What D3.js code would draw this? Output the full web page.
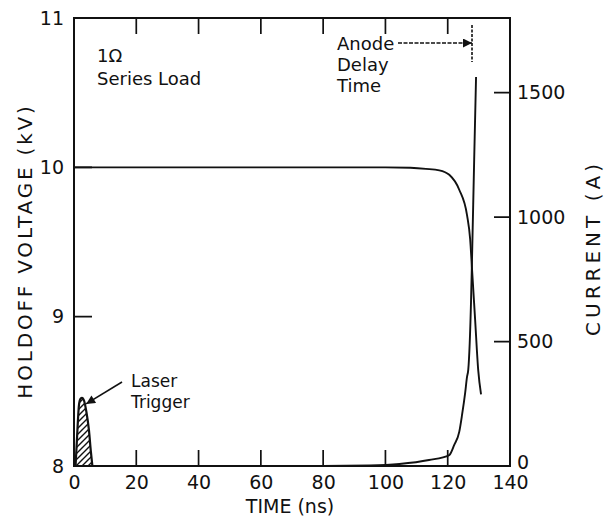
<!DOCTYPE html>
<html>
<head>
<meta charset="utf-8">
<script src="https://cdn.jsdelivr.net/npm/d3@7"></script>
<style>
  body { margin: 0; background: #fff; }
  svg text { font-family: "DejaVu Sans", sans-serif; fill: #111; }
</style>
</head>
<body>
<div id="chart"></div>
<script>
// holdoff voltage trace (kV vs ns)
var voltTime = [0, 20, 40, 60, 80, 100, 108, 113, 117.3, 120.5, 123.7, 126.2, 127.2, 127.8, 128.8, 129.8, 130.7];
var voltKV   = [10, 10, 10, 10, 10, 10, 9.997, 9.99, 9.98, 9.95, 9.85, 9.68, 9.52, 9.32, 8.98, 8.64, 8.48];

// current trace (A vs ns)
var currTime = [0, 20, 40, 60, 80, 95, 104.5, 114, 120.5, 122.1, 123.7, 124.6, 125.6, 126.2, 126.6, 127.5, 127.8, 128.5, 129.1];
var currAmp  = [0, 0, 0, 0, 0, 2, 8, 24, 44, 85, 137, 205, 294, 358, 387, 668, 830, 1232, 1563];

// laser trigger pulse, drawn in voltage units
var laserTime = [0.5, 1.0, 1.6, 2.1, 2.6, 3.2, 4.0, 4.8, 5.4, 5.9];
var laserKV   = [8.0, 8.2, 8.41, 8.45, 8.456, 8.44, 8.36, 8.24, 8.1, 8.0];

var anodeDelay = 127.8;

var timeTicks = [0, 20, 40, 60, 80, 100, 120, 140];
var voltTicks = [8, 9, 10, 11];
var currTicks = [0, 500, 1000, 1500];

var W = 605, H = 522;
var margin = {top: 18, right: 95, bottom: 56, left: 74},
    plotW = W - margin.left - margin.right,
    plotH = H - margin.top - margin.bottom;

var svg = d3.select("#chart").append("svg")
    .attr("width", W)
    .attr("height", H);

var defs = svg.append("defs");
defs.append("marker")
    .attr("id", "arrow")
    .attr("viewBox", "0 0 10 10")
    .attr("refX", 10).attr("refY", 5)
    .attr("markerWidth", 12).attr("markerHeight", 9)
    .attr("markerUnits", "userSpaceOnUse")
    .attr("orient", "auto")
    .append("path")
    .attr("d", "M0,0 L10,5 L0,10 Z")
    .attr("fill", "#111");

var hatch = defs.append("pattern")
    .attr("id", "hatch")
    .attr("patternUnits", "userSpaceOnUse")
    .attr("width", 6).attr("height", 6);
hatch.append("path")
    .attr("d", "M-1,1 L1,-1 M0,6 L6,0 M5,7 L7,5")
    .attr("stroke", "#111")
    .attr("stroke-width", 1.4);

var g = svg.append("g")
    .attr("transform", "translate(" + margin.left + "," + margin.top + ")");

var x = d3.scaleLinear().domain([0, 140]).range([0, plotW]);
var yV = d3.scaleLinear().domain([8, 11]).range([plotH, 0]);
var yI = d3.scaleLinear().domain([0, 1800]).range([plotH, 0]);

// tick labels from the axes, tick marks drawn inward below
function styleAxis(sel) {
    sel.select(".domain").remove();
    sel.selectAll(".tick line").remove();
    sel.selectAll(".tick text").attr("font-size", 19).attr("fill", "#111")
       .style("font-family", "DejaVu Sans, sans-serif");
}

g.append("g")
    .attr("transform", "translate(0," + plotH + ")")
    .call(d3.axisBottom(x).tickValues(timeTicks).tickSize(0).tickPadding(10))
    .call(styleAxis);

g.append("g")
    .call(d3.axisLeft(yV).tickValues(voltTicks).tickSize(0).tickPadding(10).tickFormat(d3.format("d")))
    .call(styleAxis);

var rightAxis = g.append("g")
    .attr("transform", "translate(" + plotW + ",0)")
    .call(d3.axisRight(yI).tickValues(currTicks).tickSize(0).tickPadding(7).tickFormat(d3.format("d")))
    .call(styleAxis);
rightAxis.selectAll(".tick text").filter(function(d) { return d === 0; }).attr("y", -4);

// inward tick marks as one path
var tickLen = 16;
var inner = timeTicks.slice(1, -1);
var tickPath = d3.path();
inner.forEach(function(t) {
    tickPath.moveTo(x(t), plotH); tickPath.lineTo(x(t), plotH - tickLen);
    tickPath.moveTo(x(t), 0); tickPath.lineTo(x(t), tickLen);
});
voltTicks.slice(1, -1).forEach(function(v) {
    tickPath.moveTo(0, yV(v)); tickPath.lineTo(tickLen + 2, yV(v));
});
currTicks.slice(1).forEach(function(c) {
    tickPath.moveTo(plotW, yI(c)); tickPath.lineTo(plotW - tickLen, yI(c));
});
g.append("path")
    .attr("d", tickPath.toString())
    .attr("fill", "none")
    .attr("stroke", "#111")
    .attr("stroke-width", 1.7);

// frame
g.append("rect")
    .attr("width", plotW)
    .attr("height", plotH)
    .attr("fill", "none")
    .attr("stroke", "#111")
    .attr("stroke-width", 2);

// laser trigger pulse
var laserArea = d3.area()
    .x(function(d) { return x(d[0]); })
    .y0(yV(8))
    .y1(function(d) { return yV(d[1]); })
    .curve(d3.curveMonotoneX);
var laserPts = laserTime.map(function(t, i) { return [t, laserKV[i]]; });
g.append("path")
    .datum(laserPts)
    .attr("d", laserArea)
    .attr("fill", "url(#hatch)")
    .attr("stroke", "#111")
    .attr("stroke-width", 2.2);

// curves
var traceLine = function(ys) {
    return d3.line()
        .x(function(d) { return x(d[0]); })
        .y(function(d) { return ys(d[1]); })
        .curve(d3.curveMonotoneX);
};
g.append("path")
    .datum(voltTime.map(function(t, i) { return [t, voltKV[i]]; }))
    .attr("d", traceLine(yV))
    .attr("fill", "none")
    .attr("stroke", "#111")
    .attr("stroke-width", 1.9);

g.append("path")
    .datum(currTime.map(function(t, i) { return [t, currAmp[i]]; }))
    .attr("d", traceLine(yI))
    .attr("fill", "none")
    .attr("stroke", "#111")
    .attr("stroke-width", 1.9);

// anode delay marker
var ax = x(anodeDelay);
g.append("line")
    .attr("x1", ax).attr("x2", ax)
    .attr("y1", 7).attr("y2", 44)
    .attr("stroke", "#111")
    .attr("stroke-width", 1.6)
    .attr("stroke-dasharray", "3,1.5");
g.append("line")
    .attr("x1", 324).attr("x2", ax)
    .attr("y1", 25).attr("y2", 25)
    .attr("stroke", "#111")
    .attr("stroke-width", 1.6)
    .attr("stroke-dasharray", "4,1.5")
    .attr("marker-end", "url(#arrow)");

var anode = g.append("text").attr("font-size", 18);
["Anode", "Delay", "Time"].forEach(function(s, i) {
    anode.append("tspan").attr("x", 263).attr("y", 32 + i * 21).text(s);
});

// laser trigger label
var peakIdx = d3.maxIndex(laserKV);
g.append("line")
    .attr("x1", 48).attr("y1", 364)
    .attr("x2", x(laserTime[peakIdx]) + 4).attr("y2", yV(laserKV[peakIdx]) + 6)
    .attr("stroke", "#111")
    .attr("stroke-width", 1.6)
    .attr("marker-end", "url(#arrow)");
var laser = g.append("text").attr("font-size", 17);
laser.append("tspan").attr("x", 57).attr("y", 369).text("Laser");
laser.append("tspan").attr("x", 57).attr("y", 390).text("Trigger");

// load note
var note = g.append("text").attr("font-size", 18);
note.append("tspan").attr("x", 23).attr("y", 44).text("1\u03A9");
note.append("tspan").attr("x", 23).attr("y", 67).text("Series Load");

// axis titles
svg.append("text")
    .attr("transform", "translate(25,251) rotate(-90)")
    .attr("text-anchor", "middle")
    .attr("dominant-baseline", "central")
    .attr("font-size", 20)
    .attr("letter-spacing", 2.8)
    .text("HOLDOFF VOLTAGE (kV)");

svg.append("text")
    .attr("transform", "translate(593,248) rotate(-90)")
    .attr("text-anchor", "middle")
    .attr("dominant-baseline", "central")
    .attr("font-size", 20)
    .attr("letter-spacing", 4)
    .text("CURRENT (A)");

svg.append("text")
    .attr("x", 290).attr("y", 506)
    .attr("text-anchor", "middle")
    .attr("dominant-baseline", "central")
    .attr("font-size", 19)
    .text("TIME (ns)");
</script>
</body>
</html>
